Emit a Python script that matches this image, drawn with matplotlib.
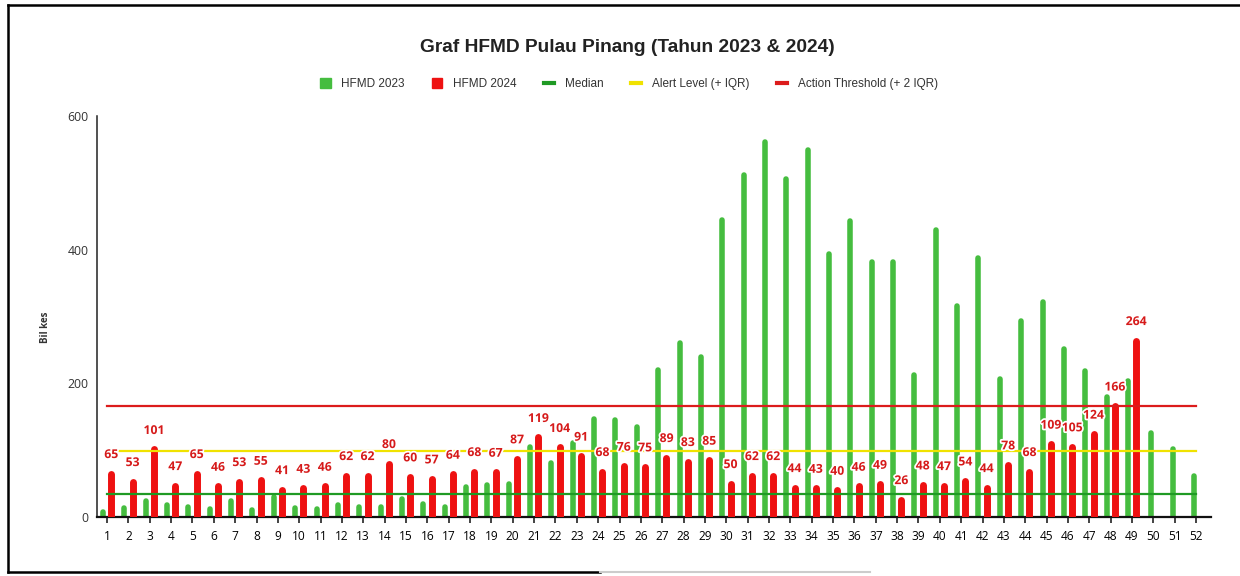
import matplotlib
matplotlib.use("Agg")
import matplotlib.pyplot as plt
from matplotlib.patches import Patch
from matplotlib.lines import Line2D
import matplotlib.patheffects as pe
import numpy as np

# ---- data ----
weeks = list(range(1, 53))
hfmd_2023 = [8, 13, 24, 18, 15, 12, 24, 10, 30, 13,
             12, 18, 15, 15, 27, 19, 15, 45, 48, 49,
             104, 81, 110, 146, 145, 134, 220, 260, 239, 445,
             512, 561, 506, 549, 394, 443, 381, 381, 212, 430,
             315, 387, 207, 294, 321, 251, 219, 179, 204, 125,
             101, 61]
hfmd_2024 = [65, 53, 101, 47, 65, 46, 53, 55, 41, 43,
             46, 62, 62, 80, 60, 57, 64, 68, 67, 87,
             119, 104, 91, 68, 76, 75, 89, 83, 85, 50,
             62, 62, 44, 43, 40, 46, 49, 26, 48, 47,
             54, 44, 78, 68, 109, 105, 124, 166, 264]
median_level = 34
alert_level = 99
action_level = 166
y_ticks = [0, 200, 400, 600]

title = "Graf HFMD Pulau Pinang (Tahun 2023 & 2024)"
legend_labels = ["HFMD 2023", "HFMD 2024", "Median", "Alert Level (+ IQR)",
                 "Action Threshold (+ 2 IQR)"]
y_label = "Bil kes"

# ---- colours ----
c_green_bar = "#45bd3f"
c_red_bar = "#ee1111"
c_median = "#1f9a24"
c_alert = "#f0e200"
c_action = "#dc1c1c"
c_label = "#d61a1a"

fig = plt.figure(figsize=(12.4, 5.76), dpi=100)
ax = fig.add_axes([97 / 1240, 59 / 576, (1211 - 97) / 1240, (517 - 116) / 576])

w23 = np.array(weeks, dtype=float)
n24 = len(hfmd_2024)
off23 = np.where(w23 <= n24, -0.19, -0.1)
x23 = w23 + off23
x24 = np.array(weeks[:n24], dtype=float) + 0.2

ax.vlines(x23, 0, hfmd_2023, colors=c_green_bar, linewidth=4.0,
          capstyle="round", zorder=2)
ax.vlines(x24, 0, hfmd_2024, colors=c_red_bar, linewidth=5.0,
          capstyle="round", zorder=3)

xs_line = [weeks[0], weeks[-1]]
ax.plot(xs_line, [median_level] * 2, color=c_median, lw=1.6, zorder=4)
ax.plot(xs_line, [alert_level] * 2, color=c_alert, lw=1.6, zorder=4)
ax.plot(xs_line, [action_level] * 2, color=c_action, lw=1.6, zorder=4)

for x, v in zip(x24, hfmd_2024):
    ax.annotate(str(v), (x, v), xytext=(0, 9), textcoords="offset points",
                ha="center", va="bottom", fontsize=8.8, fontweight="bold",
                color=c_label, family="Open Sans", zorder=6,
                path_effects=[pe.withStroke(linewidth=2.5, foreground="white")])

ax.set_xlim(0.53, 52.7)
ax.set_ylim(0, 600)
ax.set_xticks(weeks)
ax.set_xticklabels([str(w) for w in weeks], fontsize=8.6, family="Open Sans")
ax.set_yticks(y_ticks)
ax.set_yticklabels([str(t) for t in y_ticks], fontsize=8.8, family="Open Sans",
                   color="#333333")
ax.tick_params(axis="x", length=4, width=1.2, color="#222222", pad=5)
ax.tick_params(axis="y", length=0, pad=6)
for s in ["top", "right"]:
    ax.spines[s].set_visible(False)
ax.spines["left"].set_linewidth(1.1)
ax.spines["bottom"].set_linewidth(1.6)
ax.spines["left"].set_color("#222222")
ax.spines["bottom"].set_color("#111111")

fig.text(45 / 1240, 1 - 327 / 576, y_label, rotation=90, ha="center",
         va="center", fontsize=7, fontweight="bold", family="Open Sans",
         color="#333333")

fig.text(627 / 1240, 1 - 48 / 576, title, ha="center", va="center",
         fontsize=13.8, fontweight="bold", family="Liberation Sans",
         color="#222222")

handles = [Patch(facecolor=c_green_bar, edgecolor=c_green_bar),
           Patch(facecolor=c_red_bar, edgecolor=c_red_bar),
           Line2D([0], [0], color=c_median, lw=3),
           Line2D([0], [0], color=c_alert, lw=3),
           Line2D([0], [0], color=c_action, lw=3)]
fig.legend(handles, legend_labels, loc="center", ncol=5,
           bbox_to_anchor=(629 / 1240, 1 - 84 / 576), frameon=False,
           prop={"family": "Liberation Sans", "size": 8.5},
           handlelength=0.9, handleheight=0.9, handletextpad=0.9,
           columnspacing=2.3, labelcolor="#333333")

# scanned frame border
fig.add_artist(Line2D([8 / 1240, 8 / 1240], [1 - 572 / 576, 1 - 5 / 576],
                      color="black", lw=1.8, transform=fig.transFigure))
fig.add_artist(Line2D([8 / 1240, 1], [1 - 5 / 576, 1 - 5 / 576],
                      color="black", lw=1.8, transform=fig.transFigure))
fig.add_artist(Line2D([8 / 1240, 600 / 1240], [1 - 572 / 576, 1 - 572 / 576],
                      color="black", lw=1.8, transform=fig.transFigure))
fig.add_artist(Line2D([600 / 1240, 870 / 1240], [1 - 572 / 576, 1 - 572 / 576],
                      color="#cccccc", lw=1.5, transform=fig.transFigure))

fig.savefig("out.png", dpi=100)
